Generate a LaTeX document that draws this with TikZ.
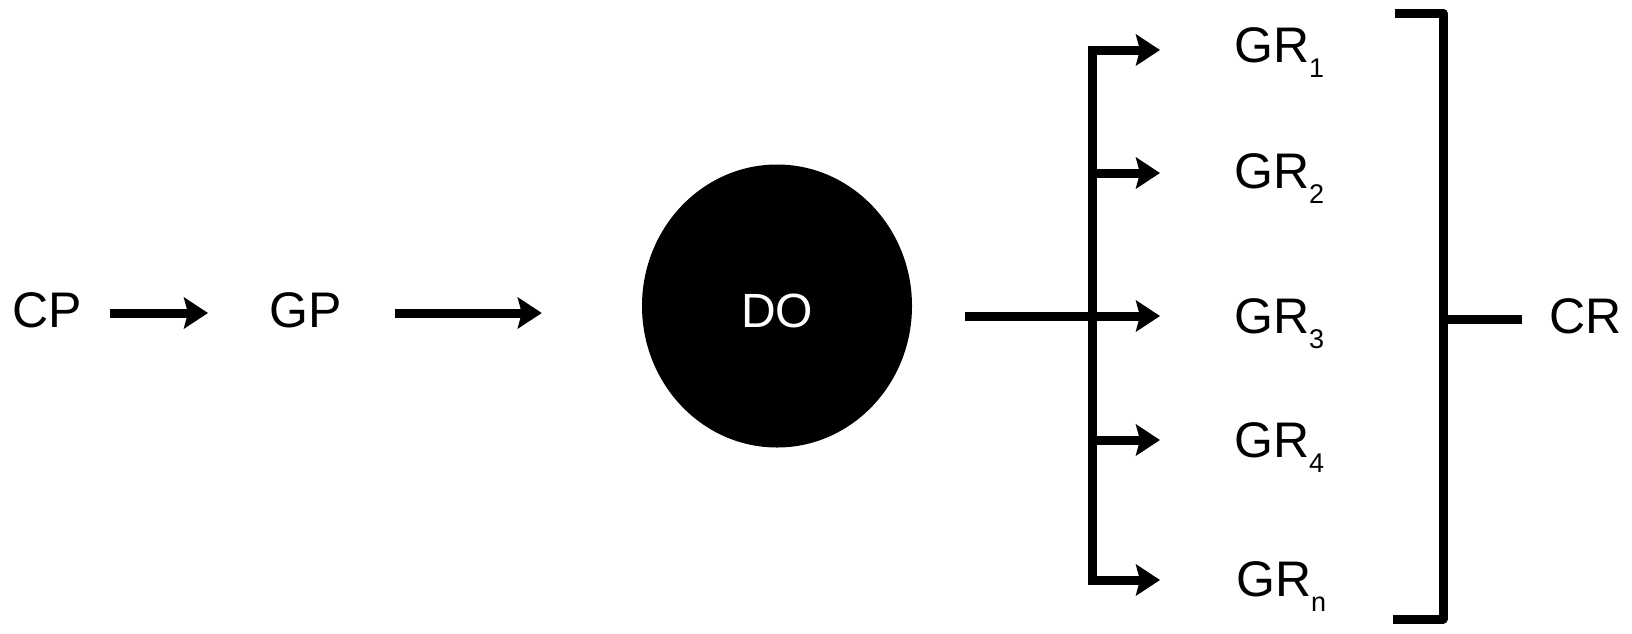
\documentclass[tikz,border=0pt]{standalone}
\usepackage{fontspec}
\setmainfont{Liberation Sans}
\usetikzlibrary{arrows.meta,shapes.geometric}
\newcommand{\sbs}[1]{\raisebox{-15pt}{\fontsize{27}{30}\selectfont #1}}
\begin{document}
\begin{tikzpicture}[x=1pt,y=-1pt,
  lbl/.style={inner sep=0pt,anchor=base west,font=\fontsize{50}{58}\selectfont},
  arr/.style={line width=9pt,-{Stealth[length=24pt,width=31pt,inset=4pt]}},
  ln/.style={line width=9pt},
  bk/.style={line width=9pt,line join=round}]
\useasboundingbox (0,0) rectangle (1632,633);
% labels
\node[lbl] (CP) at (12,327) {CP};
\node[lbl] (GP) at (269,327) {GP};
\node[ellipse,fill=black,minimum width=270pt,minimum height=283pt,inner sep=0pt] (DO) at (777,306) {};
\node[inner sep=0pt,text=white,font=\fontsize{48}{56}\selectfont] (DOt) at (777,311) {DO};
\node[lbl] (GR1) at (1234,62) {GR\sbs{1}};
\node[lbl] (GR2) at (1234,188) {GR\sbs{2}};
\node[lbl] (GR3) at (1234,333) {GR\sbs{3}};
\node[lbl] (GR4) at (1234,457) {GR\sbs{4}};
\node[lbl] (GRn) at (1236,596) {GR\sbs{n}};
\node[lbl] (CR) at (1549,333) {CR};
% main chain
\coordinate (a1) at (110,313);
\coordinate (a2) at (395,313);
\coordinate (a3) at (965,316);
\draw[arr,shorten >=61pt] (a1) -- (a1 -| GP.west);
\draw[arr,shorten >=100pt] (a2) -- (a2 -| DO.west);
% branch bar
\coordinate (b1) at (1092,50);
\coordinate (b2) at (1092,173);
\coordinate (b4) at (1092,440);
\coordinate (b5) at (1092,580);
\draw[ln,line cap=rect] (b1) -- (b5);
\draw[arr,shorten >=74pt] (b1) -- (b1 -| GR1.west);
\draw[arr,shorten >=74pt] (b2) -- (b2 -| GR2.west);
\draw[arr,shorten >=74pt] (a3) -- (a3 -| GR3.west);
\draw[arr,shorten >=74pt] (b4) -- (b4 -| GR4.west);
\draw[arr,shorten >=76pt] (b5) -- (b5 -| GRn.west);
% bracket
\coordinate (k1) at (1395,13);
\coordinate (k2) at (1443,13);
\coordinate (k3) at (1443,619);
\coordinate (k4) at (1393,619);
\coordinate (k5) at (1443,319);
\draw[bk] (k1) -- (k2) -- (k3) -- (k4);
\draw[ln,shorten >=27pt] (k5) -- (k5 -| CR.west);
\end{tikzpicture}
\end{document}
